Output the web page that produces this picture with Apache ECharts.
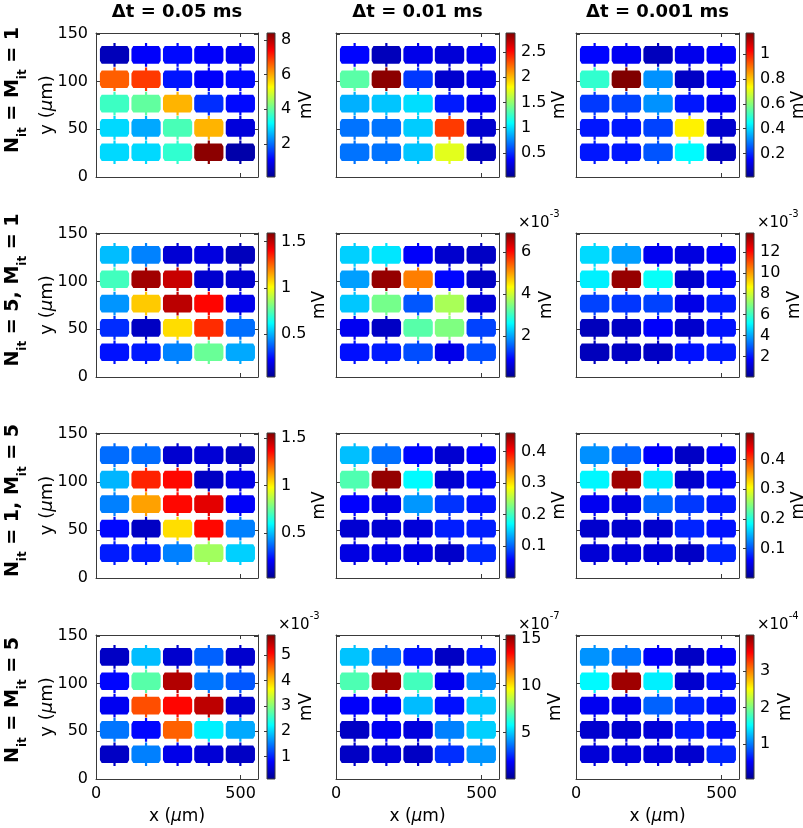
<!DOCTYPE html>
<html><head><meta charset="utf-8">
<script src="https://cdn.jsdelivr.net/npm/echarts@6/dist/echarts.min.js"></script>
<style>html,body{margin:0;padding:0;background:#fff}#c{width:803px;height:828px}</style>
</head><body><div id="c"></div>
<script>
// ---------- data ----------
const colTitles = ['Δt = 0.05 ms', 'Δt = 0.01 ms', 'Δt = 0.001 ms'];
const rowLabels = [
  '{b|N}{s|it}{b| = M}{s|it}{b| = 1}',
  '{b|N}{s|it}{b| = 5, M}{s|it}{b| = 1}',
  '{b|N}{s|it}{b| = 1, M}{s|it}{b| = 5}',
  '{b|N}{s|it}{b| = M}{s|it}{b| = 5}'
];
const xCenters = [64, 173, 282, 390, 499];
const yCenters = [128, 102.5, 77, 51.5, 26]; // rows listed top to bottom
const xTicks = [0, 500];
const yTicks = [0, 50, 100, 150];

// cell values (mV, in the colorbar's displayed units), rows top -> bottom
const v11 = [
  [0.5, 1.1, 1.2, 1.1, 1.0],
  [6.6, 6.9, 1.3, 1.1, 1.2],
  [3.7, 4.0, 5.9, 1.5, 1.2],
  [2.9, 2.5, 3.8, 5.9, 0.8],
  [2.9, 2.9, 3.6, 8.3, 0.35]];
const v12 = [
  [0.39, 0.16, 0.31, 0.25, 0.33],
  [1.34, 2.85, 0.53, 0.22, 0.30],
  [0.87, 0.93, 1.00, 0.45, 0.33],
  [0.70, 0.70, 0.95, 2.36, 0.22],
  [0.70, 0.70, 0.93, 1.73, 0.16]];
const v13 = [
  [0.16, 0.14, 0.07, 0.13, 0.15],
  [0.50, 1.17, 0.32, 0.08, 0.15],
  [0.22, 0.23, 0.32, 0.18, 0.14],
  [0.18, 0.18, 0.23, 0.75, 0.09],
  [0.18, 0.18, 0.25, 0.44, 0.07]];
const v21 = [
  [0.52, 0.43, 0.16, 0.18, 0.12],
  [0.72, 1.54, 1.48, 0.15, 0.15],
  [0.46, 1.09, 1.50, 1.39, 0.20],
  [0.30, 0.13, 1.06, 1.33, 0.40],
  [0.26, 0.27, 0.43, 0.78, 0.49]];
const v22 = [ // x1e-3
  [2.30, 2.45, 0.87, 0.53, 0.46],
  [1.97, 6.76, 5.20, 0.94, 0.46],
  [2.24, 3.40, 1.49, 3.75, 0.60],
  [0.80, 0.46, 3.20, 3.47, 1.35],
  [1.00, 1.08, 1.42, 0.74, 1.42]];
const v23 = [ // x1e-3
  [4.7, 3.9, 1.56, 1.3, 1.7],
  [5.0, 13.5, 5.3, 1.0, 1.84],
  [2.66, 2.5, 2.66, 1.4, 2.1],
  [0.74, 0.87, 1.7, 1.0, 2.0],
  [0.74, 0.87, 0.87, 2.0, 2.1]];
const v31 = [
  [0.38, 0.38, 0.14, 0.15, 0.12],
  [0.49, 1.31, 1.35, 0.12, 0.18],
  [0.41, 1.12, 1.35, 1.40, 0.21],
  [0.23, 0.12, 1.03, 1.35, 0.41],
  [0.26, 0.26, 0.41, 0.84, 0.53]];
const v32 = [
  [0.143, 0.107, 0.060, 0.034, 0.057],
  [0.207, 0.449, 0.170, 0.034, 0.060],
  [0.057, 0.043, 0.125, 0.080, 0.066],
  [0.034, 0.034, 0.038, 0.070, 0.070],
  [0.043, 0.043, 0.043, 0.030, 0.075]];
const v33 = [
  [0.130, 0.110, 0.060, 0.030, 0.060],
  [0.180, 0.475, 0.175, 0.034, 0.064],
  [0.054, 0.044, 0.110, 0.088, 0.073],
  [0.034, 0.034, 0.034, 0.078, 0.069],
  [0.039, 0.039, 0.039, 0.030, 0.078]];
const v41 = [ // x1e-3
  [0.46, 1.88, 0.52, 1.37, 0.52],
  [0.86, 2.73, 5.52, 1.48, 1.31],
  [0.74, 4.66, 5.06, 5.46, 0.52],
  [1.48, 0.86, 4.55, 2.17, 1.77],
  [0.46, 1.54, 0.69, 0.57, 0.46]];
const v42 = [ // x1e-7
  [4.9, 3.5, 2.3, 0.97, 2.3],
  [6.96, 14.95, 6.8, 1.7, 4.2],
  [1.89, 1.89, 4.8, 2.2, 4.95],
  [0.97, 1.74, 1.4, 3.9, 5.1],
  [0.97, 1.28, 0.97, 2.66, 4.2]];
const v43 = [ // x1e-4
  [1.10, 0.99, 0.51, 0.28, 0.51],
  [1.50, 3.86, 1.46, 0.32, 0.59],
  [0.47, 0.43, 0.91, 0.67, 0.59],
  [0.32, 0.32, 0.36, 0.63, 0.59],
  [0.36, 0.36, 0.36, 0.32, 0.67]];

const cbLims = [[0.1, 8.4], [0.02, 2.88], [0.01, 1.17],
                [0.04, 1.59], [0.05, 6.9], [0.05, 13.8],
                [0.03, 1.55], [0.0, 0.458], [0.0, 0.49],
                [0.12, 5.8], [0.05, 15.4], [0.04, 3.98]];
const cbTicks = [[2, 4, 6, 8], [0.5, 1, 1.5, 2, 2.5], [0.2, 0.4, 0.6, 0.8, 1],
                 [0.5, 1, 1.5], [2, 4, 6], [2, 4, 6, 8, 10, 12],
                 [0.5, 1, 1.5], [0.1, 0.2, 0.3, 0.4], [0.1, 0.2, 0.3, 0.4],
                 [1, 2, 3, 4, 5], [5, 10, 15], [1, 2, 3]];
const cbExp = ['', '', '', '', '-3', '-3', '', '', '', '-3', '-7', '-4'];

// ---------- layout / style ----------
const panels = [v11, v12, v13, v21, v22, v23, v31, v32, v33, v41, v42, v43];
const colX = [[96, 258], [336, 499], [576, 739]];
const cbX = [[267, 275], [506, 515], [746, 754]];
const rowY = [[33, 177], [233, 377], [433, 578], [635, 779]];
const rowLabelShift = [-15, -15, -5, -7];
const X_MAX = 560, Y_MAX = 151;
const CELL_W = 101, CELL_H = 18.5;
const FONT = 'DejaVu Sans';
const AX = '#3a3a3a';
const jet = ['#00008f', '#0000ff', '#0080ff', '#00ffff', '#80ff80', '#ffff00', '#ff8000', '#ff0000', '#800000'];
const jetStops = jet.map((c, i) => ({offset: i / (jet.length - 1), color: c}));

function renderCell(params, api) {
  const cx = api.value(0), cy = api.value(1);
  const a = api.coord([cx - CELL_W / 2, cy + CELL_H / 2]);
  const b = api.coord([cx + CELL_W / 2, cy - CELL_H / 2]);
  const m = api.coord([cx, cy]);
  const x0 = a[0], y0 = a[1], x1 = b[0], y1 = b[1], xm = m[0];
  const dx = 1.8, dy = 3, tw = 1.1, th = 3;
  const pts = [[x0 + dx, y0], [xm - tw, y0], [xm - tw, y0 - th], [xm + tw, y0 - th], [xm + tw, y0],
    [x1 - dx, y0], [x1, y0 + dy], [x1, y1 - dy], [x1 - dx, y1],
    [xm + tw, y1], [xm + tw, y1 + th], [xm - tw, y1 + th], [xm - tw, y1],
    [x0 + dx, y1], [x0, y1 - dy], [x0, y0 + dy]];
  return {type: 'polygon', shape: {points: pts}, style: {fill: api.visual('color')}};
}
function renderBar(params, api) {
  const a = api.coord([0, api.value(2)]);
  const b = api.coord([1, api.value(1)]);
  return {type: 'rect', shape: {x: a[0], y: a[1], width: b[0] - a[0], height: b[1] - a[1]},
    style: {fill: new echarts.graphic.LinearGradient(0, 1, 0, 0, jetStops), stroke: AX, lineWidth: 1}};
}
function labW(t) { const s = String(t); let w = 0; for (const ch of s) w += (ch === '.' ? 5.1 : 10.2); return w; }

const grids = [], xAxes = [], yAxes = [], series = [], visualMaps = [], graphics = [];
const lbl = {fontSize: 16, fontFamily: FONT, color: '#000'};

for (let r = 0; r < 4; r++) for (let c = 0; c < 3; c++) {
  const k = r * 3 + c;
  const [L, R] = colX[c], [T, B] = rowY[r];
  const gi = grids.length;
  grids.push({left: L, top: T, width: R - L, height: B - T});
  const xi = xAxes.length, yi = yAxes.length;
  const axLine = {show: true, onZero: false, lineStyle: {color: AX, width: 1}};
  xAxes.push({gridIndex: gi, type: 'value', min: 0, max: X_MAX, position: 'bottom', axisLine: axLine,
    axisTick: {show: true, inside: true, length: 4, customValues: xTicks, lineStyle: {color: AX}},
    axisLabel: Object.assign({show: r === 3, customValues: xTicks, margin: 7}, lbl), splitLine: {show: false}});
  xAxes.push({gridIndex: gi, type: 'value', min: 0, max: X_MAX, position: 'top', axisLine: axLine,
    axisTick: {show: true, inside: true, length: 4, customValues: xTicks, lineStyle: {color: AX}},
    axisLabel: {show: false}, splitLine: {show: false}});
  yAxes.push({gridIndex: gi, type: 'value', min: 0, max: Y_MAX, position: 'left', axisLine: axLine,
    axisTick: {show: true, inside: true, length: 4, customValues: yTicks, lineStyle: {color: AX}},
    axisLabel: Object.assign({show: c === 0, customValues: yTicks, margin: 8}, lbl), splitLine: {show: false}});
  yAxes.push({gridIndex: gi, type: 'value', min: 0, max: Y_MAX, position: 'right', axisLine: axLine,
    axisTick: {show: true, inside: true, length: 4, customValues: yTicks, lineStyle: {color: AX}},
    axisLabel: {show: false}, splitLine: {show: false}});
  const cells = [];
  panels[k].forEach((row, ri) => row.forEach((v, ci) => cells.push([xCenters[ci], yCenters[ri], v])));
  const si = series.length;
  series.push({type: 'custom', xAxisIndex: xi, yAxisIndex: yi, renderItem: renderCell,
    data: cells, encode: {x: 0, y: 1}, silent: true, animation: false});
  visualMaps.push({type: 'continuous', show: false, seriesIndex: si, dimension: 2,
    min: cbLims[k][0], max: cbLims[k][1], inRange: {color: jet}});

  // colorbar
  const [cL, cR] = cbX[c];
  const gc = grids.length;
  grids.push({left: cL, top: T, width: cR - cL, height: B - T});
  const cxi = xAxes.length, cyi = yAxes.length;
  xAxes.push({gridIndex: gc, type: 'value', min: 0, max: 1, show: false});
  yAxes.push({gridIndex: gc, type: 'value', min: cbLims[k][0], max: cbLims[k][1], position: 'right',
    axisLine: {show: false}, splitLine: {show: false},
    axisTick: {show: true, inside: true, length: 3, customValues: cbTicks[k], lineStyle: {color: AX}},
    axisLabel: Object.assign({customValues: cbTicks[k], margin: 6, formatter: v => String(+(+v).toFixed(4))}, lbl)});
  series.push({type: 'custom', xAxisIndex: cxi, yAxisIndex: cyi, renderItem: renderBar,
    data: [[0, cbLims[k][0], cbLims[k][1]]], silent: true, animation: false});

  // mV label
  const maxW = Math.max(...cbTicks[k].map(labW));
  graphics.push({type: 'text', x: cR + 22 + maxW * 0.9, y: (T + B) / 2, rotation: Math.PI / 2,
    style: {text: 'mV', fontSize: 17, fontFamily: FONT, fill: '#000', align: 'center', verticalAlign: 'middle'}});
  // exponent label
  if (cbExp[k]) {
    graphics.push({type: 'text', x: cR + 3, y: T - 13,
      style: {text: '{a|×10}{e|' + cbExp[k] + '}', align: 'left', verticalAlign: 'middle',
        rich: {a: {fontSize: 15, fontFamily: FONT, fill: '#000', lineHeight: 22, verticalAlign: 'bottom'},
               e: {fontSize: 10, fontFamily: FONT, fill: '#000', lineHeight: 12, verticalAlign: 'top'}}}});
  }
}

// column titles
colTitles.forEach((t, c) => graphics.push({type: 'text', x: (colX[c][0] + colX[c][1]) / 2, y: 12,
  style: {text: t, fontSize: 18, fontWeight: 'bold', fontFamily: FONT, fill: '#000', align: 'center', verticalAlign: 'middle'}}));
// row labels + y labels
rowLabels.forEach((t, r) => {
  const mid = (rowY[r][0] + rowY[r][1]) / 2;
  graphics.push({type: 'text', x: 13, y: mid + rowLabelShift[r], rotation: Math.PI / 2,
    style: {text: t, align: 'center', verticalAlign: 'middle',
      rich: {b: {fontSize: 19, fontWeight: 'bold', fontFamily: FONT, fill: '#000', lineHeight: 32, verticalAlign: 'middle'},
             s: {fontSize: 12, fontWeight: 'bold', fontFamily: FONT, fill: '#000', lineHeight: 12, verticalAlign: 'bottom'}}}});
  graphics.push({type: 'text', x: 47, y: mid, rotation: Math.PI / 2,
    style: {text: '{n|y (}{i|μ}{n|m)}', align: 'center', verticalAlign: 'middle',
      rich: {n: {fontSize: 18, fontFamily: FONT, fill: '#000'}, i: {fontSize: 18, fontFamily: FONT, fontStyle: 'italic', fill: '#000'}}}});
});
// x labels
colX.forEach(([L, R]) => graphics.push({type: 'text', x: (L + R) / 2, y: 817,
  style: {text: '{n|x (}{i|μ}{n|m)}', align: 'center', verticalAlign: 'middle',
    rich: {n: {fontSize: 17, fontFamily: FONT, fill: '#000'}, i: {fontSize: 17, fontFamily: FONT, fontStyle: 'italic', fill: '#000'}}}}));

const chart = echarts.init(document.getElementById('c'), null, {renderer: 'canvas'});
chart.setOption({
  backgroundColor: '#fff', animation: false,
  grid: grids, xAxis: xAxes, yAxis: yAxes, series: series, visualMap: visualMaps, graphic: graphics
});
</script></body></html>
